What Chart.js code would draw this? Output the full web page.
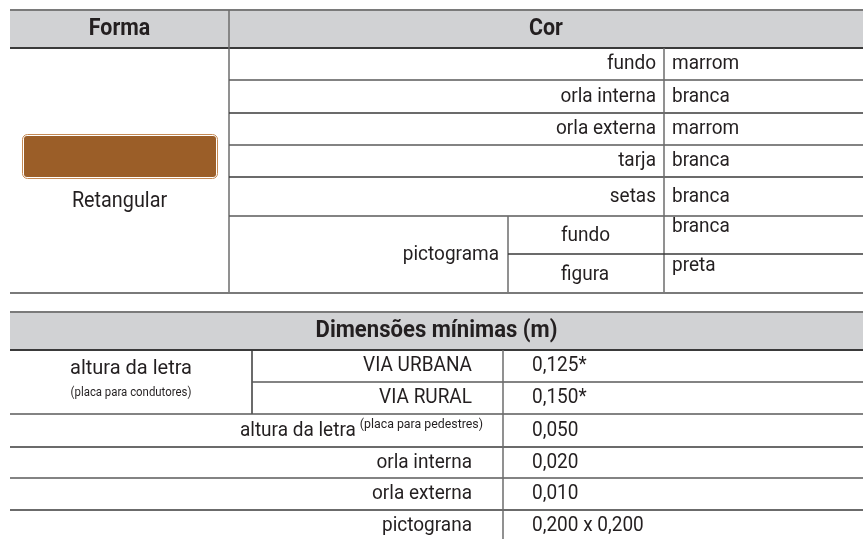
<!DOCTYPE html>
<html>
<head>
<meta charset="utf-8">
<script src="https://cdn.jsdelivr.net/npm/chart.js@4.4.1/dist/chart.umd.min.js"></script>
<style>
  html, body { margin: 0; padding: 0; background: #fff; }
  canvas { display: block; }
</style>
</head>
<body>
<canvas id="tabela" width="863" height="539"></canvas>
<script>
// =========================
// DADOS
// =========================
const headerForma = "Forma";
const headerCor = "Cor";
const formaNome = "Retangular";
const corItens = ["fundo", "orla interna", "orla externa", "tarja", "setas"];
const corValores = ["marrom", "branca", "marrom", "branca", "branca"];
const pictoNome = "pictograma";
const pictoPartes = ["fundo", "figura"];
const pictoValores = ["branca", "preta"];

const headerDim = "Dimensões mínimas (m)";
const letraNome = "altura da letra";
const letraNota = "(placa para condutores)";
const viaTipos = ["VIA URBANA", "VIA RURAL"];
const viaValores = ["0,125*", "0,150*"];
const dimItens = ["altura da letra", "orla interna", "orla externa", "pictograna"];
const dimNotas = ["(placa para pedestres)", "", "", ""];
const dimValores = ["0,050", "0,020", "0,010", "0,200 x 0,200"];

// =========================
// LAYOUT
// =========================
const TXT = "#231f20";
const CINZA = "#d1d2d4";
const FONTE = "Roboto, 'Liberation Sans', sans-serif";
const SX = 0.95; // letra condensada

const topo = { x0: 10, x1: 863, y0: 10, yh: 48, colForma: 229, colValor: 664, colSub: 508 };
const topoLinhas = [48, 80, 113, 145, 177, 216];
const pictoLinhas = [216, 254, 293];
const baixo = { x0: 10, x1: 863, y0: 312, yh: 350, colA: 252, colB: 503 };
const baixoLinhas = [350, 382, 414, 447, 478, 510, 542];

const tabelaPlugin = {
  id: "tabela",
  afterDraw(chart) {
    const c = chart.ctx;
    const X = v => chart.scales.x.getPixelForValue(v);
    const Y = v => chart.scales.y.getPixelForValue(v);

    function texto(t, x, y, align, size, bold, sx) {
      c.save();
      c.fillStyle = TXT;
      c.font = (bold ? "bold " : "") + size + "px " + FONTE;
      c.textAlign = align;
      c.textBaseline = "middle";
      c.translate(X(x), Y(y));
      c.scale(sx || SX, 1);
      c.fillText(t, 0, 0);
      c.restore();
    }
    function largura(t, size, bold) {
      c.save();
      c.font = (bold ? "bold " : "") + size + "px " + FONTE;
      const w = c.measureText(t).width * SX;
      c.restore();
      return w;
    }
    function linha(x0, y0, x1, y1, cor, lw) {
      c.save();
      c.strokeStyle = cor;
      c.lineWidth = lw;
      c.beginPath();
      c.moveTo(X(x0), Y(y0));
      c.lineTo(X(x1), Y(y1));
      c.stroke();
      c.restore();
    }
    function faixa(x0, y0, x1, y1, cor) {
      c.fillStyle = cor;
      c.fillRect(X(x0), Y(y0), X(x1) - X(x0), Y(y1) - Y(y0));
    }

    // ---- tabela de cima ----
    faixa(topo.x0, topo.y0, topo.x1, topo.yh, CINZA);
    linha(topo.x0, topo.y0, topo.x1, topo.y0, "#7a7a7a", 2);
    linha(topo.x0, topo.yh, topo.x1, topo.yh, "#3a3a3a", 2);
    linha(topo.colForma, topo.y0, topo.colForma, pictoLinhas[2], "#6d6d6d", 1.5);
    texto(headerForma, (topo.x0 + topo.colForma) / 2, 29, "center", 23, true, 0.93);
    texto(headerCor, (topo.colForma + topo.x1) / 2, 29, "center", 23, true, 0.93);

    for (let i = 1; i < topoLinhas.length; i++) {
      linha(topo.colForma, topoLinhas[i], topo.x1, topoLinhas[i], i % 2 ? "#5a5a5a" : "#3a3a3a", 1.5);
    }
    corItens.forEach((t, i) => {
      const yc = (topoLinhas[i] + topoLinhas[i + 1]) / 2;
      texto(t, topo.colValor - 8, yc, "right", 20, false);
      texto(corValores[i], topo.colValor + 8, yc, "left", 20, false);
    });
    linha(topo.colValor, topo.yh, topo.colValor, pictoLinhas[2], "#6d6d6d", 1.5);

    // pictograma
    linha(topo.colSub, pictoLinhas[0], topo.colSub, pictoLinhas[2], "#6d6d6d", 1.5);
    linha(topo.colSub, pictoLinhas[1], topo.x1, pictoLinhas[1], "#3a3a3a", 1.5);
    texto(pictoNome, topo.colSub - 9, (pictoLinhas[0] + pictoLinhas[2]) / 2, "right", 20, false);
    pictoPartes.forEach((t, i) => {
      const yc = (pictoLinhas[i] + pictoLinhas[i + 1]) / 2;
      texto(t, topo.colSub + 53, yc + 1, "left", 20, false);
      texto(pictoValores[i], topo.colValor + 8, yc - 8, "left", 20, false);
    });
    linha(topo.x0, pictoLinhas[2], topo.x1, pictoLinhas[2], "#7a7a7a", 2);

    // placa marrom
    const px0 = X(22), py0 = Y(134), px1 = X(218), py1 = Y(179);
    c.save();
    c.beginPath();
    c.roundRect(px0 + 0.5, py0 + 0.5, px1 - px0 - 1, py1 - py0 - 1, 5);
    c.fillStyle = "#ffffff";
    c.fill();
    c.strokeStyle = "#c58a55";
    c.lineWidth = 1;
    c.stroke();
    c.beginPath();
    c.roundRect(px0 + 2, py0 + 2, px1 - px0 - 4, py1 - py0 - 4, 3);
    c.fillStyle = "#9b5e28";
    c.fill();
    c.restore();
    texto(formaNome, (topo.x0 + topo.colForma) / 2, 201, "center", 22, false, 0.9);

    // ---- tabela de baixo ----
    faixa(baixo.x0, baixo.y0, baixo.x1, baixo.yh, CINZA);
    linha(baixo.x0, baixo.y0, baixo.x1, baixo.y0, "#7a7a7a", 2);
    linha(baixo.x0, baixo.yh, baixo.x1, baixo.yh, "#3a3a3a", 2);
    texto(headerDim, (baixo.x0 + baixo.x1) / 2, 331, "center", 23, true, 0.96);

    // altura da letra (condutores)
    linha(baixo.colA, baixoLinhas[0], baixo.colA, baixoLinhas[2], "#3a3a3a", 1.5);
    linha(baixo.colA, baixoLinhas[1], baixo.x1, baixoLinhas[1], "#5a5a5a", 1.5);
    texto(letraNome, (baixo.x0 + baixo.colA) / 2, 369, "center", 20, false, 1.0);
    texto(letraNota, (baixo.x0 + baixo.colA) / 2, 393, "center", 12, false);
    viaTipos.forEach((t, i) => {
      const yc = (baixoLinhas[i] + baixoLinhas[i + 1]) / 2;
      texto(t, baixo.colB - 31, yc, "right", 20, false);
      texto(viaValores[i], baixo.colB + 29, yc, "left", 20, false);
    });

    for (let i = 2; i < baixoLinhas.length; i++) {
      linha(baixo.x0, baixoLinhas[i], baixo.x1, baixoLinhas[i], i % 2 ? "#3a3a3a" : "#5a5a5a", 1.5);
    }
    dimItens.forEach((t, i) => {
      const yc = (baixoLinhas[i + 2] + baixoLinhas[i + 3]) / 2;
      let xr = baixo.colB - 31;
      if (dimNotas[i]) {
        xr = baixo.colB - 20;
        texto(dimNotas[i], xr, yc - 6, "right", 13, false);
        xr -= largura(dimNotas[i], 13, false) + 4;
      }
      texto(t, xr, yc, "right", 20, false);
      texto(dimValores[i], baixo.colB + 29, yc, "left", 20, false);
    });
    linha(baixo.colB, baixoLinhas[0], baixo.colB, baixoLinhas[6], "#6d6d6d", 1.5);
  }
};

new Chart(document.getElementById("tabela"), {
  type: "scatter",
  data: { datasets: [] },
  options: {
    responsive: false,
    animation: false,
    layout: { padding: 0 },
    scales: {
      x: { type: "linear", min: 0, max: 863, display: false },
      y: { type: "linear", min: 0, max: 539, reverse: true, display: false }
    },
    plugins: { legend: { display: false }, tooltip: { enabled: false } }
  },
  plugins: [tabelaPlugin]
});
</script>
</body>
</html>
